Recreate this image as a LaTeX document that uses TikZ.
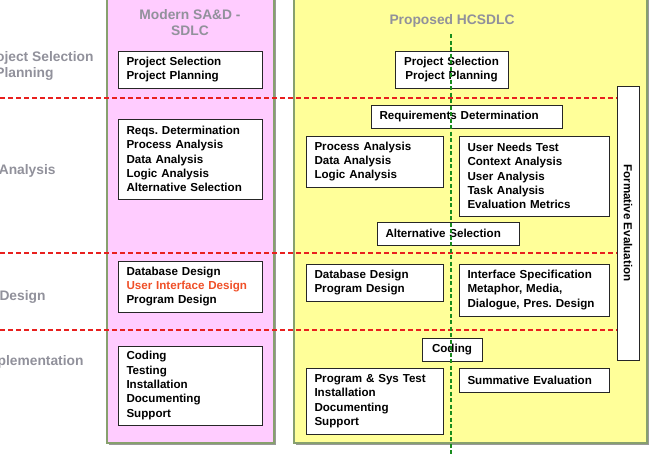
\documentclass[tikz,border=0pt]{standalone}
\usepackage{fontspec}
\setmainfont{Liberation Sans}
\usepackage{xcolor}
\usetikzlibrary{shadows}
\frenchspacing

\definecolor{panelpink}{RGB}{255,204,255}
\definecolor{panelyellow}{RGB}{255,255,153}
\definecolor{paneledge}{RGB}{135,160,110}
\definecolor{titlegray}{RGB}{145,145,155}
\definecolor{phasered}{RGB}{232,32,30}
\definecolor{axisgreen}{RGB}{25,140,30}
\definecolor{uired}{RGB}{240,80,40}

\begin{document}
\begin{tikzpicture}[x=1pt, y=-1pt,
  box/.style={draw=black!85, fill=white, line width=0.9pt, inner xsep=8.5pt, inner ysep=0pt,
    font=\fontsize{11.6}{14.3}\selectfont\bfseries,
    drop shadow={shadow xshift=1.2pt, shadow yshift=-1.2pt, fill=black!45, opacity=1}},
  title/.style={text=titlegray, align=center, font=\fontsize{13.8}{16}\selectfont\bfseries},
  phase/.style={text=titlegray, align=left, anchor=west, font=\fontsize{13.8}{16}\selectfont\bfseries},
  panel/.style={draw=paneledge, line width=1.1pt},
  divider/.style={draw=phasered, line width=1.6pt, dash pattern=on 5pt off 3pt},
  axis/.style={draw=axisgreen, line width=1.6pt, dash pattern=on 4pt off 2.5pt}]
\useasboundingbox (0,0) rectangle (653,456);
\clip (0,0) rectangle (653,456);

% Panels
\fill[black!40] (109,-5) rectangle (276,445);
\fill[black!40] (296,-5) rectangle (649,445);
\fill[panelpink, panel] (107,-5) rectangle (274,443);
\fill[panelyellow, panel] (294,-5) rectangle (647,443);

% Titles
\node[title] (modern) at (190,23) {Modern SA\&D -\\SDLC};
\node[title] (proposed) at (452,21) {Proposed HCSDLC};

% Phases
\node[phase] (selection) at (-22,66) {Project Selection\\\& Planning};
\node[phase] (analysis) at (-4.7,171) {Analysis};
\node[phase] (design) at (-4,297) {Design};
\node[phase] (implementation) at (-22,362) {Implementation};

%Dividers
\draw[divider] (0,98) -- (617,98);
\draw[divider] (0,253) -- (617,253);
\draw[divider] (0,330) -- (617,330);

% Modern SA&D boxes
\node[box, align=left, text width=127, minimum height=37] (m1) at (190,69.5)
  {Project Selection\\Project Planning};
\node[box, align=left, text width=127, minimum height=80] (m2) at (190,159)
  {Reqs. Determination\\Process Analysis\\Data Analysis\\Logic Analysis\\Alternative Selection};
\node[box, align=left, text width=127, minimum height=51] (m3) at (190,286.5)
  {Database Design\\\textcolor{uired}{User Interface Design}\\Program Design};
\node[box, align=left, text width=127, minimum height=79] (m4) at (190,385.5)
  {Coding\\Testing\\Installation\\Documenting\\Support};

% HCSDLC boxes
\node[box, align=center, text width=96, minimum height=37] (h1) at (451.5,69.5)
  {Project Selection\\Project Planning};
\node[box, align=left, text width=174, minimum height=23] (req) at (466.5,116.5)
  {Requirements Determination};
\node[box, align=left, text width=120, minimum height=51] (proc) at (374.5,161.5)
  {Process Analysis\\Data Analysis\\Logic Analysis};
\node[box, align=left, text width=133, minimum height=80] (user) at (534,176)
  {User Needs Test\\Context Analysis\\User Analysis\\Task Analysis\\Evaluation Metrics};
\node[box, align=left, text width=125, minimum height=23] (alt) at (448,233.5)
  {Alternative Selection};
\node[box, align=left, text width=120, minimum height=37] (db) at (374.5,282.5)
  {Database Design\\Program Design};
\node[box, align=left, text width=133, minimum height=52] (ifs) at (534,290)
  {Interface Specification\\Metaphor, Media,\\Dialogue, Pres. Design};
\node[box, align=center, text width=43, minimum height=23] (coding) at (452,349.5)
  {Coding};
\node[box, align=left, text width=120, minimum height=66] (prog) at (374.5,401)
  {Program \& Sys Test\\Installation\\Documenting\\Support};
\node[box, align=left, text width=133, minimum height=24] (summ) at (534,380)
  {Summative Evaluation};
\node[box, rotate=-90, align=center, minimum width=274, minimum height=22, inner xsep=0pt] (form) at (628,223)
  {Formative Evaluation};

%Axis
\draw[axis] (451,34) -- (451,460);
\end{tikzpicture}
\end{document}
